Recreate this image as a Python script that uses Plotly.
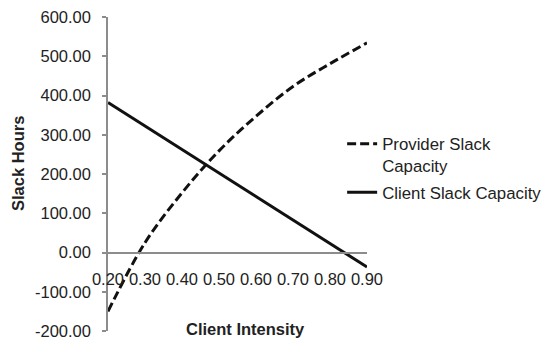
import plotly.graph_objects as go

client_intensity = [0.20, 0.30, 0.40, 0.50, 0.60, 0.70, 0.80, 0.90]
provider_slack = [-150, 25, 152, 259, 347, 423, 481, 534]
client_slack = [382, 322, 263, 203, 143, 84, 24, -37]
y_ticks = [-200, -100, 0, 100, 200, 300, 400, 500, 600]
y_tick_labels = [f"{v:.2f}" for v in y_ticks]
x_tick_labels = [f"{v:.2f}" for v in client_intensity]

FONT = "Liberation Sans, Arial, sans-serif"
AXIS_GRAY = "#8c8c8c"
TXT = "#222222"

fig = go.Figure()
fig.add_trace(go.Scatter(
    x=client_intensity, y=provider_slack, mode="lines",
    name="Provider Slack<br>Capacity", legendgroup="provider",
    line=dict(color="#111111", width=3, dash="9px,4px", shape="spline", smoothing=1.0),
))
fig.add_trace(go.Scatter(
    x=client_intensity, y=client_slack, mode="lines",
    name="Client Slack Capacity", legendgroup="client",
    line=dict(color="#111111", width=3),
))

# page body has an 8px default margin; margins compensate so the plot area
# lands at about x 108..367, y 17..331 in the window
fig.update_layout(
    width=550, height=344,
    margin=dict(l=100, r=191, t=9, b=21),
    paper_bgcolor="white", plot_bgcolor="white",
    font=dict(family=FONT, size=16.5, color=TXT),
    showlegend=True,
    legend=dict(
        x=0.904, y=0.652, xanchor="left", yanchor="top",
        bgcolor="rgba(0,0,0,0)", borderwidth=0,
        font=dict(size=16.8, color=TXT),
        valign="top", traceorder="grouped", tracegroupgap=2,
    ),
    xaxis=dict(
        range=[0.2, 0.9], tickvals=client_intensity, ticktext=x_tick_labels,
        anchor="free", position=0.25, automargin=False,
        showline=True, linecolor=AXIS_GRAY, linewidth=1.5,
        ticks="", showgrid=False, zeroline=False,
        ticklabelstandoff=12, ticklabeloverflow="allow",
        tickfont=dict(size=16.5, color=TXT),
    ),
    yaxis=dict(
        range=[-200, 600], tickvals=y_ticks, ticktext=y_tick_labels, automargin=False,
        showline=True, linecolor=AXIS_GRAY, linewidth=1.5,
        ticks="outside", ticklen=4, tickcolor=AXIS_GRAY, tickwidth=1.5,
        showgrid=False, zeroline=False,
        ticklabelstandoff=8, ticklabeloverflow="allow",
        tickfont=dict(size=16.5, color=TXT),
    ),
    annotations=[
        dict(text="<b>Client Intensity</b>", xref="paper", yref="paper",
             x=0.53, y=0.006, xanchor="center", yanchor="middle",
             showarrow=False, font=dict(size=16.5, color=TXT)),
        dict(text="<b>Slack Hours</b>", xref="paper", yref="paper",
             x=(18 - 108) / 259, y=(331 - 164) / 314, xanchor="center", yanchor="middle",
             textangle=-90, showarrow=False, font=dict(size=16.5, color=TXT)),
    ],
)

fig.write_html("out.html")
